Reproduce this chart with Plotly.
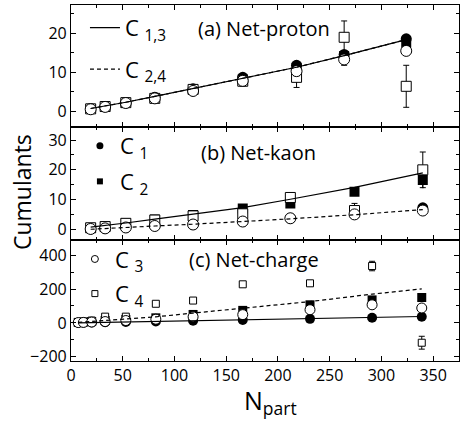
import plotly.graph_objects as go
from plotly.subplots import make_subplots

# ---------------- data ----------------
# Panel (a) Net-proton
npart_p = [19, 33, 53, 81, 118, 166, 218, 264, 324]
p_c1 = [0.6, 1.2, 2.2, 3.6, 5.8, 8.7, 11.8, 14.6, 18.6]
p_c2 = [0.6, 1.1, 2.1, 3.4, 5.5, 8.2, 11.2, 14.2, 17.6]
p_c3 = [0.5, 1.1, 2.1, 3.3, 5.2, 7.8, 10.3, 13.3, 15.5]
p_c4 = [0.6, 1.2, 2.2, 3.3, 5.6, 7.7, 8.7, 19.0, 6.4]
p_c3_err = [0.3, 0.4, 0.5, 0.6, 0.7, 0.9, 1.2, 1.5, 1.0]
p_c4_err = [0.6, 0.6, 0.8, 1.0, 1.0, 1.2, 2.6, 4.2, 5.4]
p_line13 = [0.7, 1.3, 2.3, 3.8, 5.8, 8.3, 11.3, 14.3, 18.4]
p_line24 = [0.7, 1.3, 2.3, 3.8, 5.8, 8.3, 11.3, 14.3, 18.4]

# Panel (b) Net-kaon
npart_k = [19, 33, 53, 81, 118, 166, 212, 274, 340]
k_c1 = [0.1, 0.3, 0.6, 1.2, 1.6, 2.6, 3.7, 5.0, 7.2]
k_c2 = [0.5, 1.0, 2.1, 3.3, 4.8, 7.0, 8.7, 12.6, 16.6]
k_c3 = [0.1, 0.3, 0.6, 1.1, 1.6, 2.6, 3.7, 5.0, 6.3]
k_c4 = [0.5, 0.9, 2.0, 3.1, 4.5, 5.2, 10.7, 6.3, 20.0]
k_c2_err = [0.3, 0.4, 0.5, 0.6, 0.7, 0.9, 1.0, 1.2, 2.6]
k_c3_err = [0.5, 0.6, 0.8, 1.0, 1.0, 1.0, 1.0, 1.2, 1.2]
k_c4_err = [0.6, 0.7, 0.9, 1.2, 1.3, 1.5, 1.5, 2.4, 6.0]
k_line13 = [0.7, 1.2, 2.1, 3.4, 5.1, 7.3, 10.1, 14.1, 19.0]
k_line24 = [0.0, 0.3, 0.7, 1.1, 1.7, 2.6, 3.5, 4.9, 6.6]

# Panel (c) Net-charge
npart_c = [7, 12, 20, 33, 53, 82, 118, 166, 231, 291, 339]
c_c1 = [0.8, 1.3, 2.2, 3.6, 5.8, 9, 13, 17, 24, 30, 36]
c_c2 = [3, 5, 8, 14, 20, 30, 50, 74, 107, 136, 150]
c_c3 = [2, 3, 5, 8, 14, 22, 36, 49, 78, 107, 88]
c_c4 = [4, 8, 14, 37, 37, 113, 132, 228, 234, 336, -117]
c_c3_err = [3, 3, 4, 6, 6, 8, 8, 10, 12, 14, 12]
c_c4_err = [5, 6, 7, 12, 12, 12, 12, 10, 8, 28, 38]
c_line13 = [0.8, 1.3, 2.2, 3.6, 5.8, 9, 13, 18, 25, 31, 38]
c_line24 = [3, 5, 9, 14, 22, 36, 58, 88, 126, 170, 201]

x_ticks = [0, 50, 100, 150, 200, 250, 300, 350]

FONT = "Open Sans"
DASH = "4px,3px"

fig = make_subplots(rows=3, cols=1, shared_xaxes=True, vertical_spacing=0)


def err(arr, w=1):
    return dict(type="data", array=arr, visible=True, color="black",
                thickness=1, width=w)


def add_panel(row, x, c1, c2, c3, c4, l13, l24, e2=None, e3=None, e4=None,
              msize=11, m4size=10):
    fig.add_trace(go.Scatter(x=x, y=c2, mode="markers", showlegend=False,
                             marker=dict(symbol="square", size=msize - 1, color="black"),
                             error_y=err(e2) if e2 else None), row=row, col=1)
    fig.add_trace(go.Scatter(x=x, y=c1, mode="markers", showlegend=False,
                             marker=dict(symbol="circle", size=msize, color="black")),
                  row=row, col=1)
    fig.add_trace(go.Scatter(x=x, y=c4, mode="markers", showlegend=False,
                             marker=dict(symbol="square", size=m4size, color="white",
                                         line=dict(color="black", width=1)),
                             error_y=err(e4, 3) if e4 else None), row=row, col=1)
    fig.add_trace(go.Scatter(x=x, y=c3, mode="markers", showlegend=False,
                             marker=dict(symbol="circle", size=msize, color="white",
                                         line=dict(color="black", width=1)),
                             error_y=err(e3, 3) if e3 else None), row=row, col=1)
    fig.add_trace(go.Scatter(x=x, y=l24, mode="lines", showlegend=False,
                             line=dict(color="black", width=1.2, dash=DASH)),
                  row=row, col=1)
    fig.add_trace(go.Scatter(x=x, y=l13, mode="lines", showlegend=False,
                             line=dict(color="black", width=1.2)),
                  row=row, col=1)


add_panel(1, npart_p, p_c1, p_c2, p_c3, p_c4, p_line13, p_line24,
          e3=p_c3_err, e4=p_c4_err)
add_panel(2, npart_k, k_c1, k_c2, k_c3, k_c4, k_line13, k_line24,
          e2=k_c2_err, e3=k_c3_err, e4=k_c4_err)
add_panel(3, npart_c, c_c1, c_c2, c_c3, c_c4, c_line13, c_line24,
          e3=c_c3_err, e4=c_c4_err, msize=10, m4size=7)

# legend entries (samples only)
fig.add_trace(go.Scatter(x=[None], y=[None], mode="lines", name="C <sub>1,3</sub>",
                         line=dict(color="black", width=1.2), legend="legend",
                         legendgroup="a1"))
fig.add_trace(go.Scatter(x=[None], y=[None], mode="lines", name="C <sub>2,4</sub>",
                         line=dict(color="black", width=1.2, dash=DASH),
                         legend="legend", legendgroup="a2"))
fig.add_trace(go.Scatter(x=[None], y=[None], mode="markers", name="C <sub>1</sub>",
                         marker=dict(symbol="circle", size=7, color="black"),
                         legend="legend2", legendgroup="b1"))
fig.add_trace(go.Scatter(x=[None], y=[None], mode="markers", name="C <sub>2</sub>",
                         marker=dict(symbol="square", size=6, color="black"),
                         legend="legend2", legendgroup="b2"))
fig.add_trace(go.Scatter(x=[None], y=[None], mode="markers", name="C <sub>3</sub>",
                         marker=dict(symbol="circle", size=7, color="white",
                                     line=dict(color="black", width=1)),
                         legend="legend3", legendgroup="c1"))
fig.add_trace(go.Scatter(x=[None], y=[None], mode="markers", name="C <sub>4</sub>",
                         marker=dict(symbol="square", size=6, color="white",
                                     line=dict(color="black", width=1)),
                         legend="legend3", legendgroup="c2"))

axis_common = dict(showline=True, linecolor="black", linewidth=1.2, mirror="ticks",
                   ticks="inside", ticklen=5, tickcolor="black", tickwidth=1,
                   showgrid=False, zeroline=False,
                   tickfont=dict(family=FONT, size=16, color="black"))

for r in (1, 2, 3):
    fig.update_xaxes(range=[0, 375], tickvals=x_ticks,
                     minor=dict(dtick=25, tick0=0, ticks="inside", ticklen=3,
                                tickcolor="black"),
                     showticklabels=(r == 3), row=r, col=1, **axis_common)

fig.update_yaxes(range=[-4, 27.3], dtick=10, tick0=0,
                 minor=dict(dtick=5, ticks="inside", ticklen=3, tickcolor="black"),
                 domain=[0.658, 1.0], row=1, col=1, **axis_common)
fig.update_yaxes(range=[-3.6, 34.5], dtick=10, tick0=0,
                 minor=dict(dtick=5, ticks="inside", ticklen=3, tickcolor="black"),
                 domain=[0.340, 0.658], row=2, col=1, **axis_common)
fig.update_yaxes(range=[-225, 490], dtick=200, tick0=0,
                 minor=dict(dtick=100, ticks="inside", ticklen=3, tickcolor="black"),
                 domain=[0.0, 0.340], row=3, col=1, **axis_common)


def leg(x, y, gap):
    return dict(x=x, y=y, bgcolor="rgba(0,0,0,0)", borderwidth=0, tracegroupgap=gap,
                font=dict(family=FONT, size=22, color="black"),
                xanchor="left", yanchor="top")


ann_font = dict(family=FONT, size=20, color="black")
fig.update_layout(
    width=462, height=425,
    margin=dict(l=71, r=3, t=5, b=64),
    paper_bgcolor="white", plot_bgcolor="white",
    legend=leg(0.036, 0.995, 10),
    legend2=leg(0.023, 0.663, 4),
    legend3=leg(0.010, 0.345, 3),
    annotations=[
        dict(text="(a) Net-proton", x=0.322, y=0.935, xref="paper", yref="paper",
             xanchor="left", yanchor="middle", showarrow=False, font=ann_font),
        dict(text="(b) Net-kaon", x=0.330, y=0.587, xref="paper", yref="paper",
             xanchor="left", yanchor="middle", showarrow=False, font=ann_font),
        dict(text="(c) Net-charge", x=0.300, y=0.284, xref="paper", yref="paper",
             xanchor="left", yanchor="middle", showarrow=False, font=ann_font),
        dict(text="Cumulants", x=-0.126, y=0.475, xref="paper", yref="paper",
             textangle=-90, xanchor="center", yanchor="middle", showarrow=False,
             font=dict(family=FONT, size=23, color="black")),
        dict(text="N<sub>part</sub>", x=0.513, y=-0.115, xref="paper", yref="paper",
             xanchor="center", yanchor="middle", showarrow=False,
             font=dict(family=FONT, size=25, color="black")),
    ],
)

fig.write_html("out.html")
